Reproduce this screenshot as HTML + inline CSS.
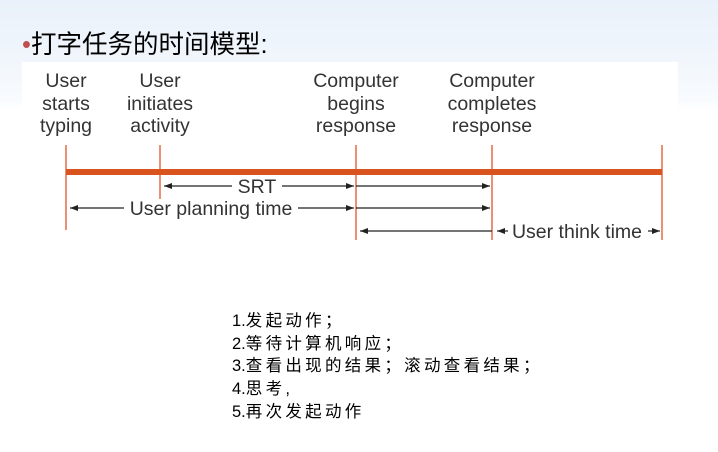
<!DOCTYPE html>
<html><head><meta charset="utf-8"><style>
html,body{margin:0;padding:0}
body{width:718px;height:452px;position:relative;overflow:hidden;background:linear-gradient(#e9f1fa 0px,#f1f6fc 60px,#f8fbfe 100px,#fff 110px);font-family:"Liberation Sans","Noto Sans CJK SC",sans-serif}
.t{position:absolute;left:22px;top:24px;font-size:25.5px;color:#000;font-family:"Liberation Sans","Noto Sans CJK SC",sans-serif}
.t b{color:#c0504d;font-weight:normal}
.img{position:absolute;left:22px;top:62px;width:656px;height:186px;background:#fff}
.lab{position:absolute;font-size:19.5px;color:#333;text-align:center;line-height:22.5px;width:140px;transform:translateX(-70px)}
.list{position:absolute;left:232px;top:310px;font-size:16.5px;line-height:22.7px;color:#000;letter-spacing:3.3px}
.list span{letter-spacing:0}
</style></head><body>
<div class="t"><b>•</b>打字任务的时间模型:</div>
<div class="img"></div>
<div class="lab" style="left:66px;top:70px">User<br>starts<br>typing</div>
<div class="lab" style="left:160px;top:70px">User<br>initiates<br>activity</div>
<div class="lab" style="left:356px;top:70px">Computer<br>begins<br>response</div>
<div class="lab" style="left:492px;top:70px">Computer<br>completes<br>response</div>
<svg style="position:absolute;left:0;top:0" width="718" height="452">
<defs><marker id="a" markerWidth="8" markerHeight="6" refX="8" refY="3" orient="auto" markerUnits="userSpaceOnUse"><path d="M0,0L8,3L0,6z" fill="#222"/></marker></defs>
<g stroke="#e0552a" stroke-width="1.3">
<line x1="66" y1="145" x2="66" y2="230"/><line x1="160" y1="145" x2="160" y2="199"/>
<line x1="356" y1="145" x2="356" y2="240"/><line x1="492" y1="145" x2="492" y2="240"/>
<line x1="662" y1="145" x2="662" y2="240"/></g>
<line x1="66" y1="172" x2="662" y2="172" stroke="#d9531e" stroke-width="6"/>
<g stroke="#222" stroke-width="1.2" fill="none">
<line x1="232" y1="186" x2="164" y2="186" marker-end="url(#a)"/>
<line x1="282" y1="186" x2="354" y2="186" marker-end="url(#a)"/>
<line x1="356" y1="186" x2="490" y2="186" marker-end="url(#a)"/>
<line x1="124" y1="208" x2="70" y2="208" marker-end="url(#a)"/>
<line x1="298" y1="208" x2="354" y2="208" marker-end="url(#a)"/>
<line x1="356" y1="208" x2="490" y2="208" marker-end="url(#a)"/>
<line x1="492" y1="231" x2="360" y2="231" marker-end="url(#a)"/>
<line x1="508" y1="231" x2="497" y2="231" marker-end="url(#a)"/>
<line x1="648" y1="231" x2="660" y2="231" marker-end="url(#a)"/>
</g>
<g font-family="Liberation Sans" font-size="19.5" fill="#333">
<text x="257" y="193" text-anchor="middle">SRT</text>
<text x="211" y="215" text-anchor="middle">User planning time</text>
<text x="577" y="238" text-anchor="middle">User think time</text>
</g>
</svg>
<div class="list"><span>1.</span>发起动作；<br><span>2.</span>等待计算机响应；<br><span>3.</span>查看出现的结果；滚动查看结果；<br><span>4.</span>思考,<br><span>5.</span>再次发起动作</div>
</body></html>
